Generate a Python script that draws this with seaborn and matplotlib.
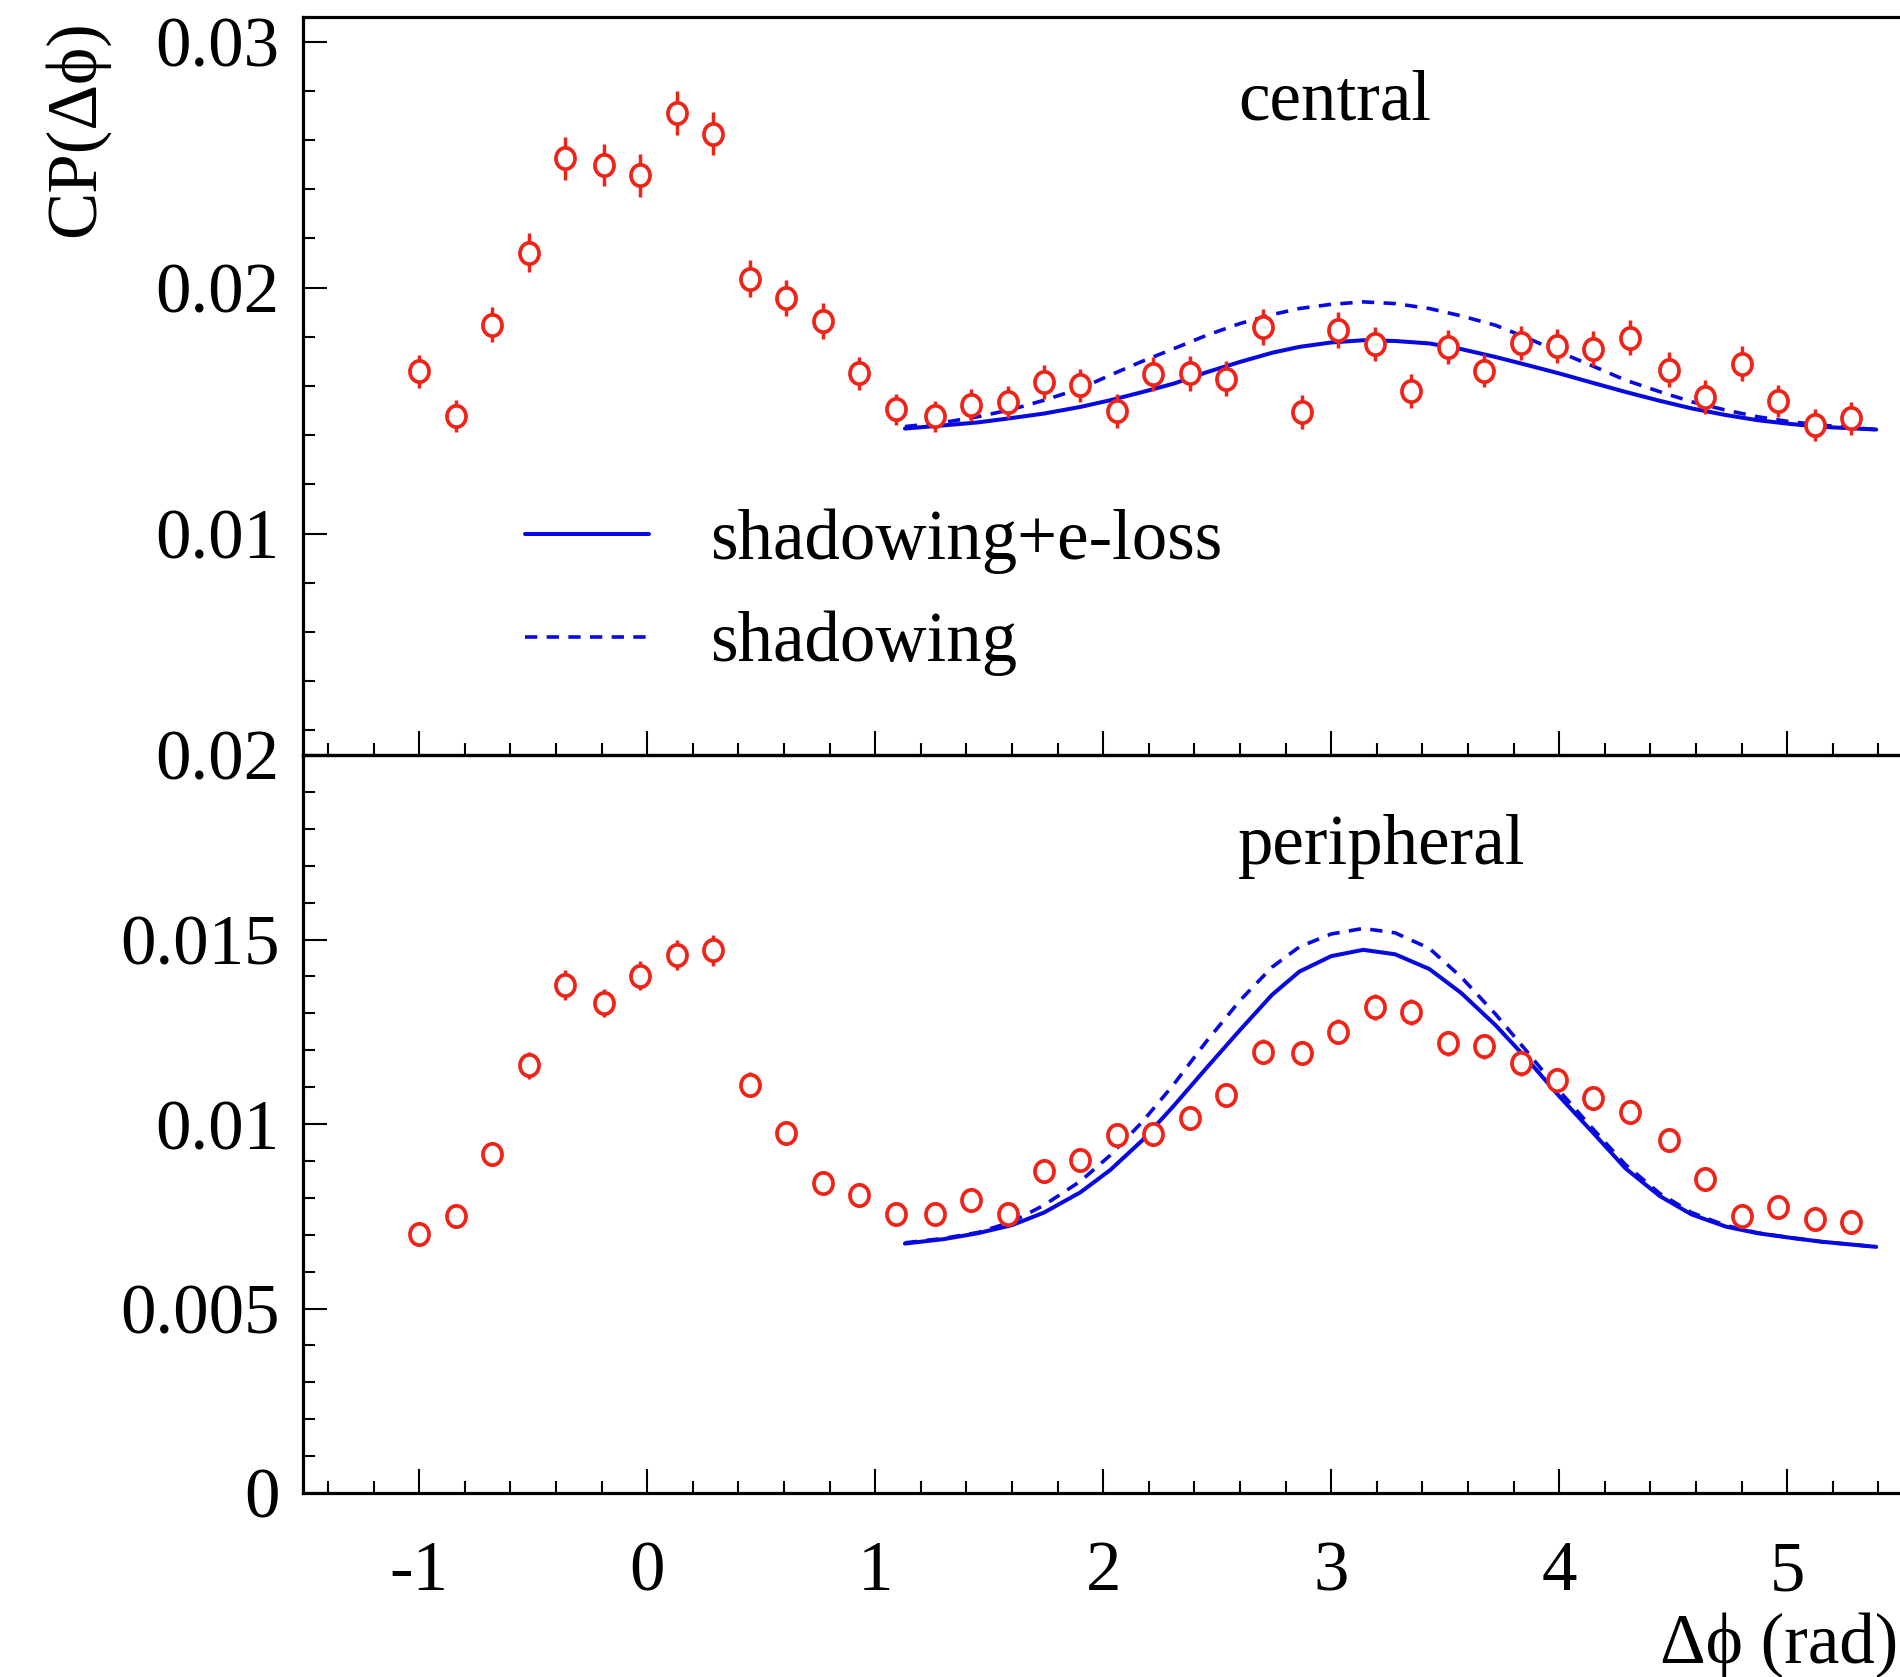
import matplotlib
matplotlib.use("Agg")
import matplotlib.pyplot as plt
import matplotlib.path as mpath
import matplotlib.transforms as mtrans
import seaborn as sns
from matplotlib.ticker import MultipleLocator, FixedLocator, FuncFormatter

# ---------------- data ----------------
dphi = [-1.00, -0.84, -0.68, -0.52, -0.36, -0.19, -0.03, 0.13, 0.29, 0.45,
        0.61, 0.77, 0.93, 1.09, 1.26, 1.42, 1.58, 1.74, 1.90, 2.06,
        2.22, 2.38, 2.54, 2.70, 2.87, 3.03, 3.19, 3.35, 3.51, 3.67,
        3.83, 3.99, 4.15, 4.31, 4.48, 4.64, 4.80, 4.96, 5.12, 5.28]

central_cp = [0.01660, 0.01479, 0.01850, 0.02142, 0.02526, 0.02497, 0.02456, 0.02710, 0.02625, 0.02036,
              0.01959, 0.01864, 0.01651, 0.01505, 0.01477, 0.01522, 0.01536, 0.01617, 0.01603, 0.01499,
              0.01648, 0.01651, 0.01630, 0.01840, 0.01495, 0.01827, 0.01770, 0.01579, 0.01759, 0.01662,
              0.01775, 0.01762, 0.01752, 0.01797, 0.01667, 0.01556, 0.01691, 0.01540, 0.01441, 0.01468]
central_err = [0.00068, 0.00065, 0.00072, 0.00078, 0.00087, 0.00086, 0.00086, 0.00090, 0.00088, 0.00075,
               0.00073, 0.00072, 0.00068, 0.00063, 0.00063, 0.00065, 0.00065, 0.00068, 0.00068, 0.00068,
               0.00070, 0.00070, 0.00070, 0.00072, 0.00068, 0.00072, 0.00070, 0.00068, 0.00070, 0.00068,
               0.00070, 0.00070, 0.00070, 0.00072, 0.00070, 0.00068, 0.00070, 0.00066, 0.00065, 0.00066]

peripheral_cp = [0.00703, 0.00752, 0.00920, 0.01159, 0.01376, 0.01327, 0.01402, 0.01458, 0.01471, 0.01107,
                 0.00975, 0.00841, 0.00808, 0.00756, 0.00756, 0.00794, 0.00756, 0.00873, 0.00902, 0.00970,
                 0.00973, 0.01015, 0.01079, 0.01196, 0.01192, 0.01250, 0.01316, 0.01304, 0.01219, 0.01211,
                 0.01164, 0.01119, 0.01070, 0.01032, 0.00957, 0.00850, 0.00751, 0.00776, 0.00742, 0.00735]
peripheral_err = [0.00022, 0.00023, 0.00026, 0.00036, 0.00040, 0.00038, 0.00040, 0.00042, 0.00042, 0.00034,
                  0.00030, 0.00028, 0.00027, 0.00026, 0.00026, 0.00026, 0.00026, 0.00028, 0.00029, 0.00030,
                  0.00030, 0.00030, 0.00031, 0.00033, 0.00033, 0.00034, 0.00035, 0.00035, 0.00034, 0.00034,
                  0.00033, 0.00033, 0.00032, 0.00032, 0.00030, 0.00029, 0.00027, 0.00027, 0.00027, 0.00026]

curve_x = [1.13, 1.30, 1.45, 1.60, 1.74, 1.90, 2.03, 2.17, 2.31, 2.45,
           2.60, 2.74, 2.86, 3.00, 3.14, 3.28, 3.43, 3.57, 3.72, 3.86,
           4.00, 4.15, 4.29, 4.44, 4.58, 4.73, 4.87, 5.01, 5.15, 5.39]

central_shadow_eloss = [0.01427, 0.01440, 0.01452, 0.01470, 0.01488, 0.01515, 0.01542, 0.01575, 0.01610, 0.01655,
                        0.01698, 0.01735, 0.01759, 0.01777, 0.01786, 0.01783, 0.01773, 0.01750, 0.01718, 0.01685,
                        0.01651, 0.01612, 0.01576, 0.01540, 0.01509, 0.01482, 0.01461, 0.01446, 0.01434, 0.01423]
central_shadow = [0.01435, 0.01452, 0.01475, 0.01505, 0.01542, 0.01590, 0.01644, 0.01700, 0.01752, 0.01805,
                  0.01854, 0.01890, 0.01915, 0.01932, 0.01942, 0.01935, 0.01915, 0.01885, 0.01847, 0.01795,
                  0.01738, 0.01680, 0.01624, 0.01577, 0.01536, 0.01502, 0.01475, 0.01455, 0.01441, 0.01423]

peripheral_shadow_eloss = [0.00676, 0.00688, 0.00704, 0.00726, 0.00760, 0.00815, 0.00875, 0.00955, 0.01050, 0.01150,
                           0.01255, 0.01350, 0.01413, 0.01455, 0.01472, 0.01460, 0.01420, 0.01355, 0.01268, 0.01175,
                           0.01075, 0.00975, 0.00880, 0.00805, 0.00755, 0.00722, 0.00704, 0.00692, 0.00681, 0.00667]
peripheral_shadow = [0.00678, 0.00690, 0.00706, 0.00735, 0.00780, 0.00845, 0.00915, 0.01005, 0.01108, 0.01222,
                     0.01335, 0.01425, 0.01480, 0.01515, 0.01530, 0.01518, 0.01476, 0.01398, 0.01298, 0.01195,
                     0.01090, 0.00985, 0.00890, 0.00812, 0.00760, 0.00725, 0.00705, 0.00692, 0.00681, 0.00667]

labels = ["shadowing+e-loss", "shadowing"]
panel_names = ["central", "peripheral"]
top_yticks = [0.01, 0.02, 0.03]

# ---------------- style ----------------
sns.set_style("ticks")
plt.rcParams['font.family'] = ['Liberation Serif', 'DejaVu Serif']
plt.rcParams['axes.unicode_minus'] = False
for k in ('text.color', 'axes.labelcolor', 'xtick.color', 'ytick.color', 'axes.edgecolor'):
    plt.rcParams[k] = 'black'

FS = 51
RED = '#ee2418'
BLUE = '#0808e0'
W, H = 1900, 1677

# slightly tall open-circle marker
oval = mpath.Path.unit_circle().transformed(mtrans.Affine2D().scale(1.0, 1.12))

fig = plt.figure(figsize=(19, 16.77), dpi=100)
xmin, xmax = -1.51, 5.55
left = 303 / W
width = (xmax - xmin) * 228 / W
h = 738 / H
ax_top = fig.add_axes([left, 1 - 755 / H, width, h])
ax_bot = fig.add_axes([left, 1 - 1493 / H, width, h])


def draw_panel(ax, cp, err, c_el, c_sh, with_label):
    ax.errorbar(dphi, cp, yerr=err, fmt='none', ecolor=RED, elinewidth=2.5,
                capsize=0, zorder=2)
    sns.scatterplot(x=dphi, y=cp, ax=ax, marker=oval, s=235, facecolor='white',
                    edgecolor=RED, linewidth=2.7, zorder=3, legend=False)
    sns.lineplot(x=curve_x, y=c_el, ax=ax, color=BLUE, lw=2.9, zorder=1,
                 label=labels[0] if with_label else None, legend=False)
    l1 = ax.lines[-1]
    sns.lineplot(x=curve_x, y=c_sh, ax=ax, color=BLUE, lw=2.6, zorder=1,
                 label=labels[1] if with_label else None, legend=False)
    l2 = ax.lines[-1]
    l2.set_dashes([3.4, 2.6])
    return l1, l2


l1, l2 = draw_panel(ax_top, central_cp, central_err,
                    central_shadow_eloss, central_shadow, True)
draw_panel(ax_bot, peripheral_cp, peripheral_err,
           peripheral_shadow_eloss, peripheral_shadow, False)

fmt = FuncFormatter(lambda v, p: f"{v:g}")
for ax in (ax_top, ax_bot):
    ax.set_xlim(xmin, xmax)
    ax.xaxis.set_major_locator(MultipleLocator(1))
    ax.xaxis.set_minor_locator(MultipleLocator(0.2))
    ax.tick_params(which='both', direction='in', top=False, right=False,
                   colors='black', labelsize=FS)
    ax.tick_params(which='major', length=17.5, width=1.5)
    ax.tick_params(which='minor', length=8.5, width=1.5)
    ax.tick_params(axis='y', pad=17)
    ax.tick_params(axis='x', pad=34)
    ax.yaxis.set_major_formatter(fmt)
    ax.set_xlabel('')
    ax.set_ylabel('')
    for s in ('left', 'top', 'bottom'):
        ax.spines[s].set_linewidth(2.3)
        ax.spines[s].set_color('black')
    ax.spines['right'].set_visible(False)
    ax.set_facecolor('none')

ax_top.set_ylim(0.001, 0.031)
ax_top.yaxis.set_major_locator(FixedLocator(top_yticks))
ax_top.yaxis.set_minor_locator(MultipleLocator(0.002))
ax_top.tick_params(axis='x', labelbottom=False)

ax_bot.set_ylim(0, 0.02)
ax_bot.yaxis.set_major_locator(MultipleLocator(0.005))
ax_bot.yaxis.set_minor_locator(MultipleLocator(0.001))

ax_top.text(2.59, 0.02685, panel_names[0], fontsize=FS, ha='left', va='baseline')
ax_bot.text(2.59, 0.01705, panel_names[1], fontsize=FS, ha='left', va='baseline')

ax_top.legend(handles=[l1, l2], labels=labels, loc='upper left',
              bbox_to_anchor=(0.138, 0.334), frameon=False, fontsize=FS,
              handlelength=1.75, handletextpad=0.86, labelspacing=0.52,
              borderpad=0, borderaxespad=0)

fig.text(76 / W, 1 - 20 / H, 'CP(Δϕ)', rotation=90, ha='center', va='top', fontsize=FS)
fig.text(1898 / W, 14 / H, 'Δϕ (rad)', ha='right', va='baseline', fontsize=FS)

fig.savefig('out.png', dpi=100, facecolor='white')
